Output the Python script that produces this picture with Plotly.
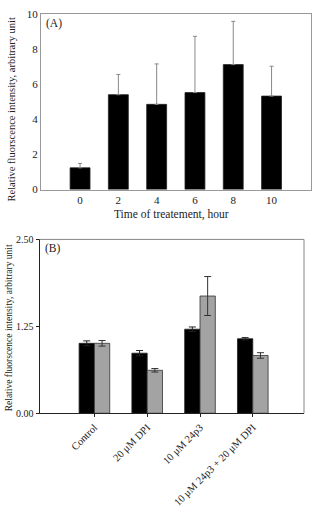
import plotly.graph_objects as go

# Panel A data
hours = [0, 2, 4, 6, 8, 10]
a_vals = [1.24, 5.40, 4.85, 5.52, 7.11, 5.32]
a_err = [0.25, 1.15, 2.30, 3.20, 2.46, 1.70]

# Panel B data
b_cats = ["Control", "20 μM DPI", "10 μM 24p3", "10 μM 24p3 + 20 μM DPI"]
b_black = [1.006, 0.864, 1.209, 1.072]
b_black_err = [0.035, 0.038, 0.032, 0.016]
b_gray = [1.006, 0.618, 1.686, 0.831]
b_gray_err = [0.04, 0.025, 0.28, 0.04]

W, H = 313, 514
FONT = "Liberation Serif"

def xd(a, b):
    return [a / W, b / W]

def yd(top, bottom):
    return [1 - bottom / H, 1 - top / H]

fig = go.Figure()

fig.add_trace(go.Bar(
    x=hours, y=a_vals, width=1.04,
    marker=dict(color="black", line=dict(color="#222", width=0.8)),
    error_y=dict(type="data", symmetric=False, array=a_err,
                 arrayminus=[0] * len(a_err), color="#888", thickness=1, width=2),
    xaxis="x", yaxis="y", showlegend=False,
))

fig.add_trace(go.Bar(
    x=b_cats, y=b_black,
    marker=dict(color="black", line=dict(color="#222", width=0.8)),
    error_y=dict(type="data", array=b_black_err, color="#222", thickness=1, width=3.5),
    xaxis="x2", yaxis="y2", showlegend=False,
))
fig.add_trace(go.Bar(
    x=b_cats, y=b_gray,
    marker=dict(color="#a3a3a3", line=dict(color="#333", width=0.8)),
    error_y=dict(type="data", array=b_gray_err, color="#333", thickness=1, width=3.5),
    xaxis="x2", yaxis="y2", showlegend=False,
))

tickfont = dict(family=FONT, size=11, color="#222")

fig.update_layout(
    width=W, height=H,
    margin=dict(l=0, r=0, t=0, b=0),
    paper_bgcolor="white", plot_bgcolor="white",
    barmode="group", bargap=0.42, bargroupgap=0,
    font=dict(family=FONT, color="#222"),
    xaxis=dict(domain=xd(41, 311), range=[-2.04, 12.06], tickvals=hours,
               ticktext=[str(h) for h in hours], showgrid=False, zeroline=False,
               showline=True, linecolor="#999", linewidth=1, mirror=True,
               ticks="", tickfont=tickfont, anchor="y"),
    yaxis=dict(domain=yd(8, 188), range=[0, 10], dtick=2, showgrid=False,
               zeroline=False, showline=True, linecolor="#999", linewidth=1,
               mirror=True, ticks="", tickfont=tickfont, anchor="x"),
    xaxis2=dict(domain=xd(39.5, 304), range=[-1.04, 3.97], showgrid=False,
                zeroline=False, showline=True, linecolor="#222", linewidth=1,
                ticks="outside", ticklen=3, tickcolor="#222", tickangle=-45,
                tickfont=dict(family=FONT, size=10.5, color="#222"), anchor="y2"),
    yaxis2=dict(domain=yd(239, 417), range=[0, 2.5], tickvals=[0, 1.25, 2.5],
                ticktext=["0.00", "1.25", "2.50"], showgrid=False, zeroline=False,
                showline=True, linecolor="#222", linewidth=1, ticks="outside",
                ticklen=3, tickcolor="#222",
                tickfont=dict(family=FONT, size=10, color="#222"), anchor="x2"),
    shapes=[
        dict(type="line", xref="x2 domain", yref="y2 domain", x0=0, x1=1, y0=1, y1=1,
             line=dict(color="#888", width=1)),
        dict(type="line", xref="x2 domain", yref="y2 domain", x0=1, x1=1, y0=0, y1=1,
             line=dict(color="#888", width=1)),
    ],
    annotations=[
        dict(text="(A)", xref="paper", yref="paper", x=44 / W, y=1 - 18 / H,
             xanchor="left", yanchor="middle", showarrow=False,
             font=dict(family=FONT, size=11.5, color="#222")),
        dict(text="(B)", xref="paper", yref="paper", x=43 / W, y=1 - 248 / H,
             xanchor="left", yanchor="middle", showarrow=False,
             font=dict(family=FONT, size=11.5, color="#222")),
        dict(text="Relative fluorscence intensity, arbitrary unit", xref="paper",
             yref="paper", x=12 / W, y=1 - 106 / H, textangle=-90,
             xanchor="center", yanchor="middle", showarrow=False,
             font=dict(family=FONT, size=10.5, color="#222")),
        dict(text="Time of treatement, hour", xref="paper", yref="paper",
             x=171 / W, y=1 - 213 / H, xanchor="center", yanchor="middle",
             showarrow=False, font=dict(family=FONT, size=11.5, color="#222")),
        dict(text="Relative fluorscence intensity, arbitrary unit", xref="paper",
             yref="paper", x=9 / W, y=1 - 330 / H, textangle=-90,
             xanchor="center", yanchor="middle", showarrow=False,
             font=dict(family=FONT, size=9.5, color="#222")),
    ],
)

fig.write_html("out.html")
